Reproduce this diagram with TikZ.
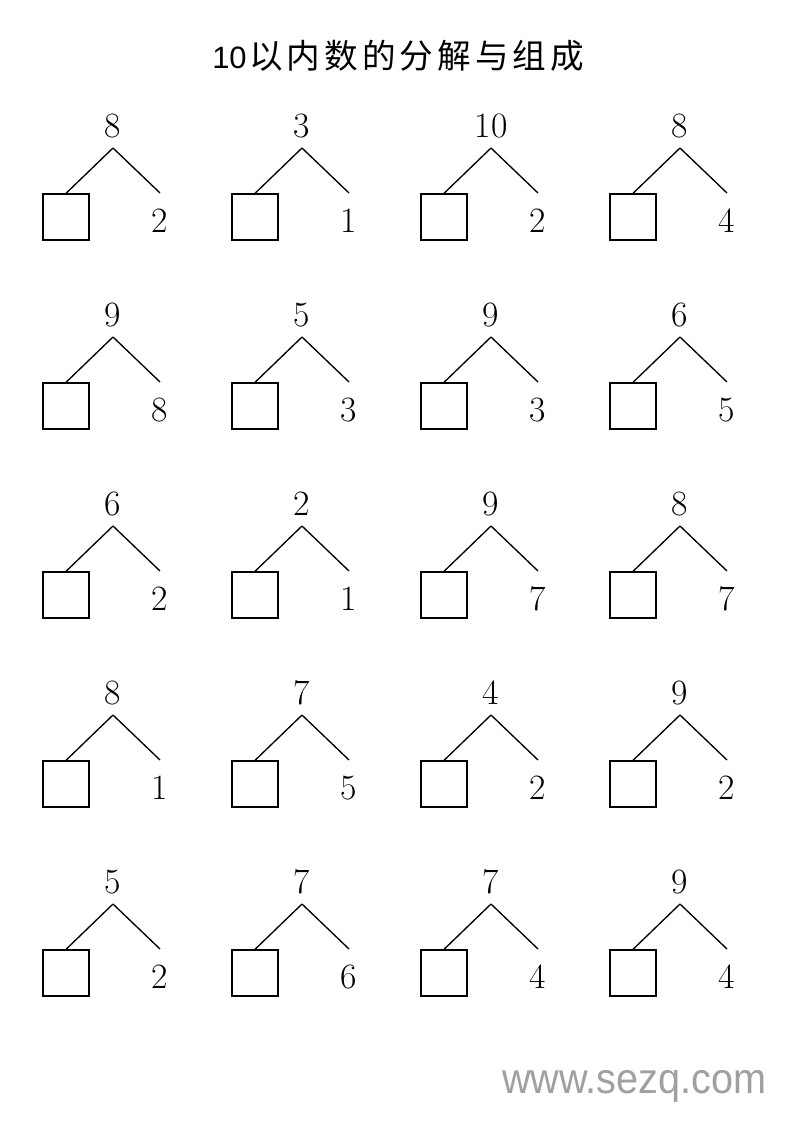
\documentclass[tikz,border=0pt]{standalone}
\usepackage{fontspec}
\newfontfamily\cjkfont{Noto Sans CJK SC}[LetterSpace=12]
\newfontfamily\wmfont{Liberation Sans}
\definecolor{wmgray}{HTML}{A0A0A0}
\begin{document}
\begin{tikzpicture}[x=0.7441pt,y=-0.7441pt,
  num/.style={font=\fontsize{26.5}{30}\selectfont, inner sep=0pt, anchor=base},
  answerbox/.style={draw, line width=1pt, minimum size=34.2pt, inner sep=0pt},
  branch/.style={line width=1pt}]
\fill[white] (0,0) rectangle (800,1131);
\useasboundingbox (0,0) rectangle (800,1131);
\node[anchor=base west, inner sep=0pt] (title) at (212,68) {{\wmfont\fontsize{23}{26}\selectfont 10}\hspace{2pt}{\cjkfont\fontsize{25}{28}\selectfont 以内数的分解与组成}};
\foreach \c/\r/\t/\b in {0/0/8/2, 1/0/3/1, 2/0/10/2, 3/0/8/4,
                         0/1/9/8, 1/1/5/3, 2/1/9/3, 3/1/6/5,
                         0/2/6/2, 1/2/2/1, 2/2/9/7, 3/2/8/7,
                         0/3/8/1, 1/3/7/5, 2/3/4/2, 3/3/9/2,
                         0/4/5/2, 1/4/7/6, 2/4/7/4, 3/4/9/4} {
  \pgfmathsetmacro\X{113+189*\c}
  \pgfmathsetmacro\Y{148+189*\r}
  \node[num] (t-\c-\r) at (\X,\Y-11) {\t};
  \coordinate (a-\c-\r) at (\X,\Y);
  \node[answerbox] (q-\c-\r) at (\X-47,\Y+69) {};
  \coordinate (e-\c-\r) at (\X+47,\Y+45);
  \node[num] (b-\c-\r) at (\X+47,\Y+84) {\b};
  \draw[branch] (a-\c-\r) -- (q-\c-\r.north);
  \draw[branch] (a-\c-\r) -- (e-\c-\r);
}
\node[font=\wmfont\fontsize{29.5}{32}\selectfont, text=wmgray, anchor=base west, inner sep=0pt, yscale=1.08] (wm) at (502,1093) {www.sezq.com};
\end{tikzpicture}
\end{document}
